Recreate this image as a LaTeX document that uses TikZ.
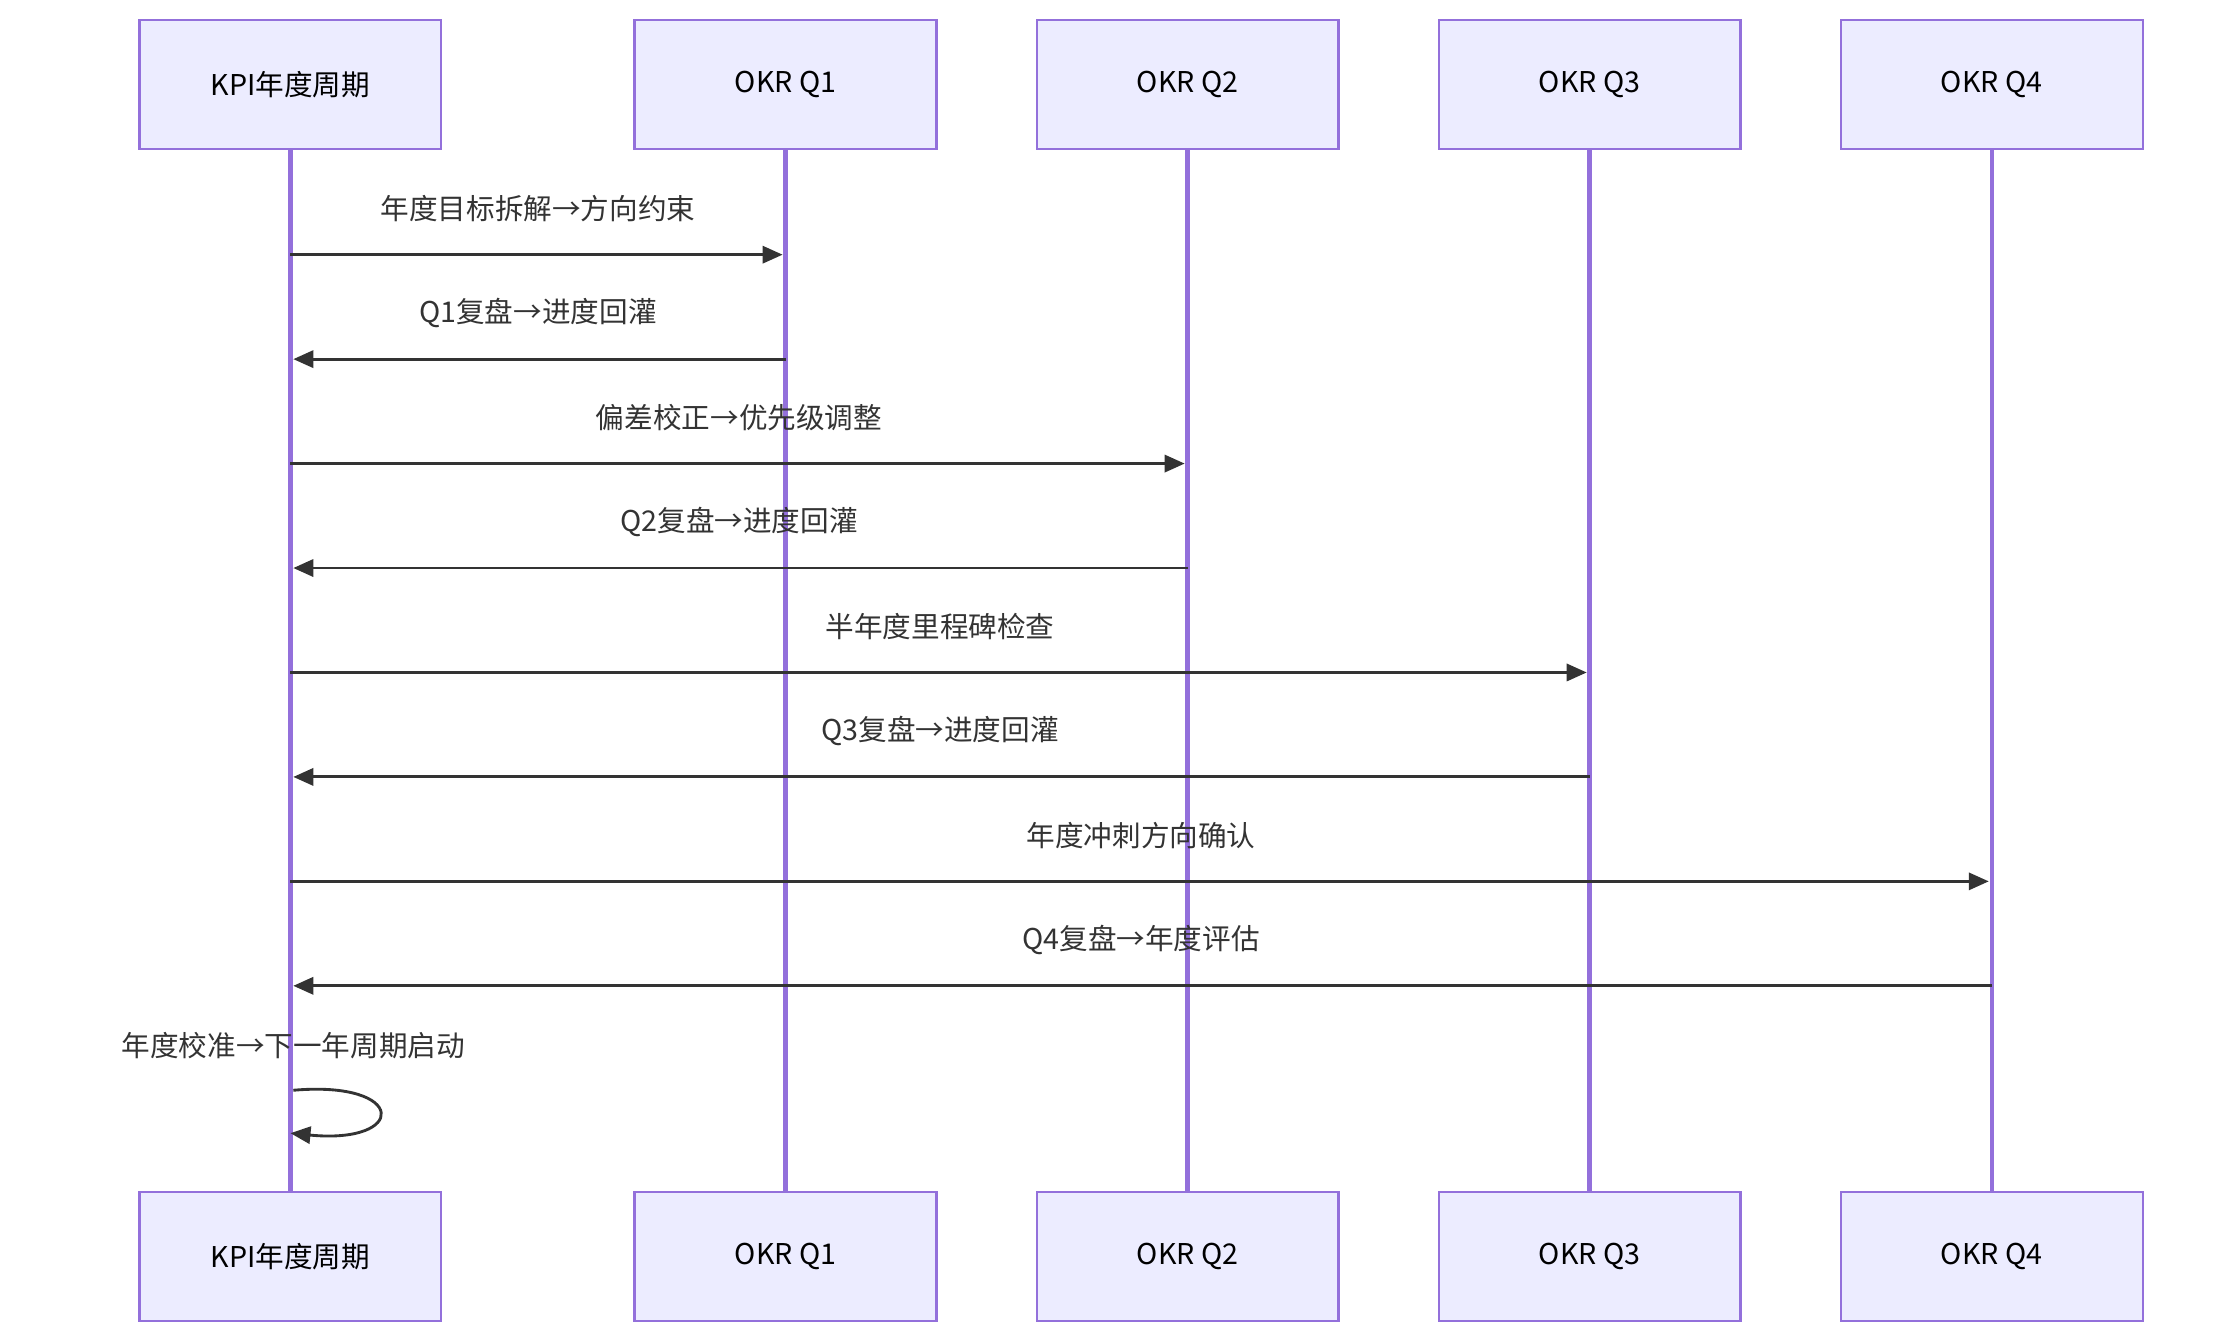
\documentclass[tikz,border=0pt]{standalone}
\usepackage{fontspec}
\setmainfont{Noto Sans CJK SC}
\usetikzlibrary{arrows.meta}
\definecolor{boxfill}{HTML}{ECECFF}
\definecolor{boxline}{HTML}{9370DB}
\definecolor{ink}{HTML}{333333}
\begin{document}
\begin{tikzpicture}[x=1pt,y=-1pt,
  actor/.style={draw=boxline,fill=boxfill,line width=1.5pt,minimum width=211pt,minimum height=90pt,font=\fontsize{20}{24}\selectfont,text=black},
  life/.style={draw=boxline,line width=3pt},
  msg/.style={draw=ink,line width=2pt,-{Triangle[length=14pt,width=12pt]}},
  lbl/.style={font=\fontsize{20}{24}\selectfont,text=ink}]
\useasboundingbox (0,0) rectangle (1560,935);
\foreach \n/\x/\t in {a/203/KPI年度周期,b/549/OKR Q1,c/830/OKR Q2,d/1111/OKR Q3,e/1392/OKR Q4}{
  \draw[life] (\x,104) -- (\x,833);
  \node[actor] (\n t) at (\x,59) {\t};
  \node[actor] (\n b) at (\x,878) {\t};
}
\foreach \y/\x/\t in {178/549/年度目标拆解→方向约束,324/830/偏差校正→优先级调整,470/1111/半年度里程碑检查,616/1392/年度冲刺方向确认}{
  \coordinate (s) at (203,\y); \coordinate (e) at (\x-2,\y);
  \draw[msg] (s) -- (e);
  \node[lbl] at ({(203+\x)/2},\y-32) {\t};
}
\foreach \y/\x/\t in {251/549/Q1复盘→进度回灌,397/830/Q2复盘→进度回灌,543/1111/Q3复盘→进度回灌,689/1392/Q4复盘→年度评估}{
  \coordinate (s) at (\x,\y); \coordinate (e) at (205,\y);
  \draw[msg] (s) -- (e);
  \node[lbl] at ({(203+\x)/2},\y-32) {\t};
}
\node[lbl] at (205,731) {年度校准→下一年周期启动};
\coordinate (l1) at (205,762); \coordinate (l2) at (203,792);
\draw[msg] (l1) .. controls (285,755) and (285,800) .. (l2);
\end{tikzpicture}
\end{document}
